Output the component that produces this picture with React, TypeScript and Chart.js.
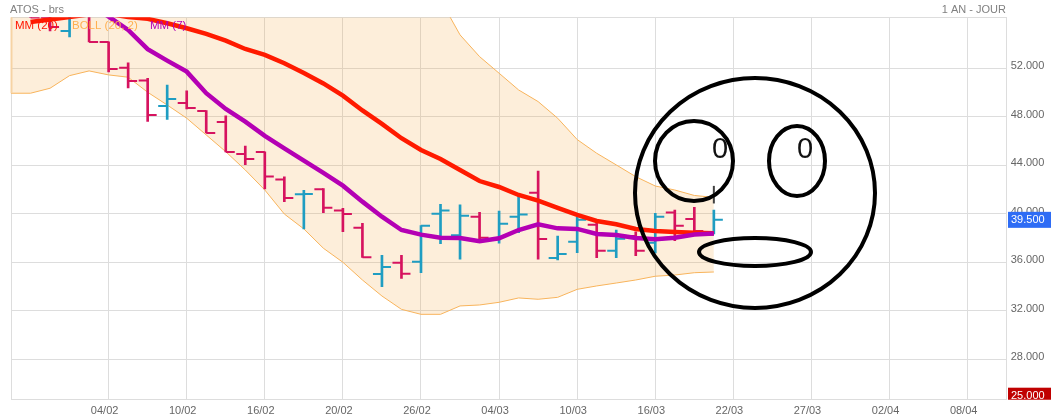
import React, { useEffect, useRef } from "react";
import { Chart, registerables } from "chart.js";

Chart.register(...registerables);

const categories = [
  "", "", "", "", "", "04/02", "", "", "", "10/02", "", "", "", "16/02", "", "", "", "20/02", "", "", "", "26/02", "", "", "", "04/03",
  "", "", "", "10/03", "", "", "", "16/03", "", "", "", "22/03", "", "", "", "27/03", "", "", "", "02/04", "", "", "", "08/04", "", "",
];
const opens = [60.5, 58, 56.19, 55.08, 57, 54.17, 52.03, 50.99, 48.89, 49.14, 48.48, 47.57, 44.93, 45.1, 42.83, 41.61, 42.02, 40.26, 38.85, 35.04, 35.97, 36.05, 40.01, 38.23, 39.76, 37.9, 39.76, 41.74, 36.36, 37.7, 39.1, 36.96, 38.17, 37.62, 40.11, 39.57, 38.3];
const highs = [61, 58.5, 57, 57.5, 58, 54.17, 52.44, 51.16, 50.62, 50.13, 48.5, 48.07, 45.59, 45.1, 43.04, 41.94, 42.07, 40.45, 39.22, 36.58, 36.58, 39.02, 40.78, 40.73, 40.12, 40.23, 41.47, 43.53, 38.17, 39.71, 39.49, 38.66, 38.52, 40.04, 40.31, 40.53, 40.31];
const lows = [58, 56.2, 55.08, 54.58, 54.17, 51.7, 50.38, 47.61, 47.78, 48.64, 46.66, 45.1, 44.05, 42.05, 40.99, 38.75, 40.09, 38.53, 36.41, 33.99, 34.68, 35.14, 37.54, 36.25, 37.84, 37.57, 38.44, 36.25, 36.19, 36.79, 36.38, 36.38, 36.55, 36.77, 37.78, 38.42, 38.33];
const closes = [59, 56.19, 55.41, 57, 54.17, 51.94, 50.95, 48.15, 49.47, 48.73, 46.66, 45.1, 44.52, 43.08, 41.3, 41.63, 40.5, 39.98, 36.41, 35.61, 35.06, 39.02, 40.26, 39.84, 38.03, 39.18, 39.93, 37.92, 36.69, 39.51, 36.96, 37.95, 36.96, 39.76, 39.02, 38.58, 39.5];
const mm20 = [null, 55.82, 56.02, 56.23, 56.44, 56.48, 56.23, 56.07, 55.71, 55.3, 54.83, 54.28, 53.59, 53.1, 52.41, 51.61, 50.75, 49.74, 48.52, 47.41, 46.23, 45.26, 44.52, 43.61, 42.7, 42.21, 41.55, 41.08, 40.48, 39.9, 39.41, 39.14, 38.75, 38.58, 38.5, 38.44, 38.39];
const mm7 = [null, null, null, 58.5, 57.3, 56.26, 55.16, 53.57, 52.63, 51.72, 49.94, 48.64, 47.6, 46.42, 45.4, 44.38, 43.37, 42.32, 41.0, 39.76, 38.66, 38.28, 38.03, 38.0, 37.73, 37.98, 38.66, 39.13, 38.8, 38.75, 38.34, 38.25, 38.0, 37.9, 38.03, 38.29, 38.38];
const bollUpper = [58.5, 59.5, 60.5, 61.5, 62.5, 63.5, 64, 64.5, 65, 65, 65, 64.8, 64.5, 64, 63.5, 63, 62.5, 62, 61, 60.5, 59.5, 58.5, 57.63, 54.75, 52.96, 51.59, 50.21, 49.25, 47.88, 46.12, 44.99, 44.03, 43.06, 42.29, 41.96, 41.51, 41.35];
const bollLower = [49.94, 49.94, 50.35, 51.39, 51.78, 51.45, 51.26, 50.02, 48.97, 47.88, 46.5, 45.12, 43.61, 41.96, 39.98, 38.75, 37.16, 36.0, 34.54, 33.22, 32.12, 31.71, 31.71, 32.4, 32.48, 32.7, 33.06, 32.95, 33.11, 33.77, 34.05, 34.29, 34.54, 34.85, 34.95, 35.14, 35.2];
const yTickValues = [28, 32, 36, 40, 44, 48, 52];
const lastPrice = 39.5;
const lowTag = 25;
const cursorRange = [42.3, 40.85];

const FONT = '"Liberation Sans", Arial, sans-serif';
const UP = "#1f9dc2";
const DOWN = "#d6135f";
const barColors = opens.map((o, i) => (closes[i] >= o ? UP : DOWN));

const overlay = {
  id: "overlay",
  afterDraw(chart: any) {
    const { ctx, scales } = chart;
    const y = scales.y;
    const x = scales.x;
    ctx.save();
    // left edge of the band
    ctx.strokeStyle = "#f6d3a4";
    ctx.lineWidth = 2;
    ctx.beginPath();
    ctx.moveTo(x.getPixelForValue(0) + 0.5, y.top);
    ctx.lineTo(x.getPixelForValue(0) + 0.5, y.getPixelForValue(bollLower[0]));
    ctx.stroke();
    // header
    ctx.textBaseline = "alphabetic";
    ctx.font = `11px ${FONT}`;
    ctx.fillStyle = "#808080";
    ctx.textAlign = "left";
    ctx.fillText("ATOS - brs", 10, 13);
    ctx.textAlign = "right";
    ctx.fillText("1 AN - JOUR", 1006, 13);
    // legend
    ctx.textAlign = "left";
    ctx.font = `11.5px ${FONT}`;
    ctx.fillStyle = "#ff1500";
    ctx.fillText("MM (20)", 15, 29);
    ctx.fillStyle = "#ffb050";
    ctx.fillText("BOLL (20, 2)", 72, 29);
    ctx.fillStyle = "#b400b4";
    ctx.fillText("MM (7)", 150, 29);
    // value tags
    const tag = (value: number, color: string) => {
      const cy = y.getPixelForValue(value);
      ctx.save();
      ctx.beginPath();
      ctx.rect(1008, 0, 43, y.bottom);
      ctx.clip();
      ctx.fillStyle = color;
      ctx.fillRect(1008, cy - 8, 43, 16);
      ctx.restore();
      ctx.fillStyle = "#ffffff";
      ctx.font = `11px ${FONT}`;
      ctx.textBaseline = "middle";
      ctx.textAlign = "left";
      ctx.fillText(value.toFixed(3), 1011, cy);
    };
    tag(lastPrice, "#2e6cf5");
    tag(lowTag, "#c00000");
    // cursor mark on the last bar
    const cx = x.getPixelForValue(opens.length - 1);
    ctx.strokeStyle = "#404040";
    ctx.lineWidth = 2;
    ctx.beginPath();
    ctx.moveTo(cx, y.getPixelForValue(cursorRange[0]));
    ctx.lineTo(cx, y.getPixelForValue(cursorRange[1]));
    ctx.stroke();
    // drawn face
    ctx.strokeStyle = "#000000";
    ctx.lineWidth = 4;
    const ring = (a: number, b: number, rx: number, ry: number) => {
      ctx.beginPath();
      ctx.ellipse(a, b, rx, ry, 0, 0, Math.PI * 2);
      ctx.stroke();
    };
    ring(755, 193, 120, 115);
    ring(694, 161, 39, 40);
    ring(797, 161, 28, 35);
    ring(755, 252, 56, 14);
    ctx.fillStyle = "#111111";
    ctx.font = `29px ${FONT}`;
    ctx.textBaseline = "alphabetic";
    ctx.textAlign = "left";
    ctx.fillText("0", 712, 158);
    ctx.fillText("0", 797, 158);
    ctx.restore();
  },
};

export default function App() {
  const ref = useRef<HTMLCanvasElement | null>(null);

  useEffect(() => {
    if (!ref.current) return;
    const chart = new Chart(ref.current, {
      type: "bar",
      data: {
        labels: categories,
        datasets: [
          {
            type: "line",
            label: "BOLL (20, 2)",
            data: bollUpper,
            borderColor: "#f8b45c",
            borderWidth: 1,
            pointRadius: 0,
            tension: 0,
            clip: 0,
            fill: { target: 1 },
            backgroundColor: "rgba(245,170,70,0.2)",
            order: 6,
          },
          {
            type: "line",
            label: "BOLL low",
            data: bollLower,
            borderColor: "#f8b45c",
            borderWidth: 1,
            pointRadius: 0,
            tension: 0,
            clip: 0,
            fill: false,
            order: 5,
          },
          {
            type: "bar",
            label: "Range",
            data: lows.map((l, i) => [l, highs[i]]),
            backgroundColor: barColors,
            barThickness: 2,
            order: 4,
          },
          {
            type: "line",
            label: "Open",
            data: opens,
            showLine: false,
            pointStyle: "dash",
            pointRotation: 180,
            pointRadius: 9,
            pointBorderWidth: 2,
            pointBorderColor: barColors,
            pointBackgroundColor: barColors,
            clip: 0,
            order: 3,
          },
          {
            type: "line",
            label: "Close",
            data: closes,
            showLine: false,
            pointStyle: "dash",
            pointRotation: 0,
            pointRadius: 9,
            pointBorderWidth: 2,
            pointBorderColor: barColors,
            pointBackgroundColor: barColors,
            clip: 0,
            order: 3,
          },
          {
            type: "line",
            label: "MM (20)",
            data: mm20,
            borderColor: "#ff1a00",
            borderWidth: 4.5,
            pointRadius: 0,
            tension: 0,
            clip: 0,
            order: 2,
          },
          {
            type: "line",
            label: "MM (7)",
            data: mm7,
            borderColor: "#b400b4",
            borderWidth: 4.5,
            pointRadius: 0,
            tension: 0,
            clip: 0,
            order: 1,
          },
        ] as any,
      },
      options: {
        responsive: false,
        animation: false,
        events: [],
        layout: { padding: { left: 10, top: 17.3, right: 0, bottom: 0 } },
        plugins: { legend: { display: false }, tooltip: { enabled: false }, title: { display: false } },
        scales: {
          x: {
            type: "category",
            offset: false,
            afterFit: (s: any) => {
              s.height = 20.3;
            },
            border: { display: false },
            grid: {
              offset: false,
              drawTicks: false,
              color: (c: any) => {
                const i = c.index;
                return categories[i] !== "" || i === 0 || i === categories.length - 1 ? "#dddddd" : "rgba(0,0,0,0)";
              },
            },
            ticks: {
              autoSkip: false,
              maxRotation: 0,
              minRotation: 0,
              padding: 5,
              labelOffset: -4,
              color: "#666666",
              font: { family: FONT, size: 11 },
              callback: (_v: any, i: number) => categories[i],
            },
          },
          y: {
            type: "linear",
            position: "right",
            min: 24.67,
            max: 56.2,
            afterFit: (s: any) => {
              s.width = 44.3;
            },
            afterBuildTicks: (s: any) => {
              s.ticks = [s.min, ...yTickValues, s.max].map((value) => ({ value }));
            },
            border: { display: false },
            grid: { drawTicks: false, color: "#dddddd" },
            ticks: {
              padding: 4,
              labelOffset: -2,
              color: "#666666",
              font: { family: FONT, size: 11 },
              callback: (v: any) => (yTickValues.includes(v) ? Number(v).toFixed(3) : ""),
            },
          },
        },
      },
      plugins: [overlay],
    } as any);
    return () => chart.destroy();
  }, []);

  return (
    <div style={{ position: "absolute", left: 0, top: 0, width: 1051, height: 420 }}>
      <canvas ref={ref} width={1051} height={420} style={{ display: "block", width: 1051, height: 420 }} />
    </div>
  );
}
